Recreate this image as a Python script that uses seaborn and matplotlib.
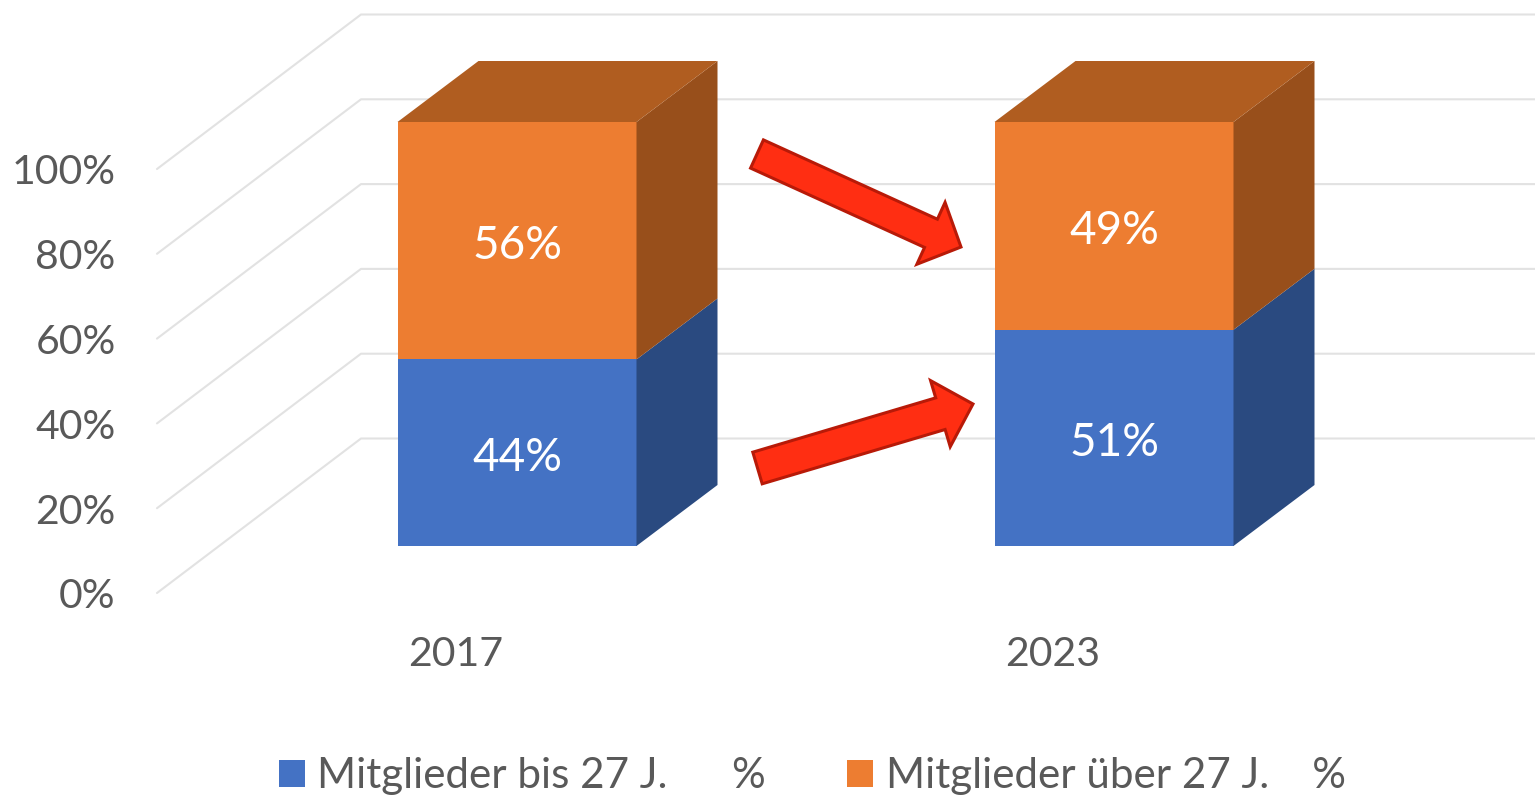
"""
Stacked member share per year, drawn with a fake 3D look like the office chart.
"""
import matplotlib.pyplot as plt
import pandas as pd
import seaborn as sns
from matplotlib.patches import FancyArrow
from matplotlib.transforms import IdentityTransform

years = ["2017", "2023"]
young_pct = [44, 51]
old_pct = [56, 49]
young_label = "Mitglieder bis 27 J.      %"
old_label = "Mitglieder über 27 J.    %"
axis_ticks = [0, 20, 40, 60, 80, 100]

BLUE, BLUE_SIDE = "#4472C4", "#2A4A80"
ORANGE, ORANGE_SIDE, ORANGE_TOP = "#ED7D31", "#984F1B", "#B05D20"
GREY = "#595959"
GRID = "#E2E2E2"
W, H = 1535, 795

# pixel layout of the picture
X_PER_CAT = 597.0
Y_PER_PCT = 4.24
X0_PX, Y0_PX = 517.0, 546.0
BAR_W = 239 / X_PER_CAT
DX, DY = 81 / X_PER_CAT, 61 / Y_PER_PCT

sns.set_theme(style="white")
plt.rcParams["font.family"] = ["Lato", "DejaVu Sans"]


def px_x(x):
    return (x - X0_PX) / X_PER_CAT


def px_y(y):
    return (Y0_PX - y) / Y_PER_PCT


def red_arrow(ax, x0, y0, x1, y1, shaft, head_w, head_l):
    ax.add_patch(FancyArrow(x0, H - y0, x1 - x0, y0 - y1, width=shaft, head_width=head_w,
                            head_length=head_l, length_includes_head=True,
                            facecolor="#FF2E12", edgecolor="#B81A08", linewidth=2.2,
                            transform=IdentityTransform(), zorder=6))


fig = plt.figure(figsize=(W / 100, H / 100), dpi=100)
ax = fig.add_axes([0, 0, 1, 1])

df = pd.DataFrame({"year": years, "young": young_pct, "old": old_pct})

sns.barplot(data=df, x="year", y="young", color=BLUE, saturation=1, width=BAR_W, ax=ax,
            label=young_label, zorder=3, linewidth=0)
sns.barplot(data=df, x="year", y="old", bottom=df["young"], color=ORANGE, saturation=1,
            width=BAR_W, ax=ax, label=old_label, zorder=3, linewidth=0)

ax.set_xlim(px_x(0), px_x(W))
ax.set_ylim(px_y(H), px_y(0))

# back wall grid
wall_x0, wall_x1 = px_x(157), px_x(361)
wall_lift = px_y(593)
wall_top = px_y(438.5)
for t in axis_ticks:
    ax.plot([wall_x0, wall_x1, px_x(W)], [wall_lift + t, wall_top + t, wall_top + t],
            color=GRID, lw=1.5, zorder=0)
    ax.text(px_x(115.5), wall_lift + t - 0.9, f"{t}%", ha="right", va="center", fontsize=29.5, color=GREY)

# side and top faces of the boxes, labels on the front
for i, year in enumerate(years):
    right = i + BAR_W / 2
    left = i - BAR_W / 2
    a, b = young_pct[i], old_pct[i]
    ax.fill([right, right + DX, right + DX, right], [0, DY, a + DY, a], color=BLUE_SIDE, lw=0, zorder=3)
    ax.fill([right, right + DX, right + DX, right], [a, a + DY, a + b + DY, a + b], color=ORANGE_SIDE, lw=0, zorder=3)
    ax.fill([left, right, right + DX, left + DX], [a + b, a + b, a + b + DY, a + b + DY],
            color=ORANGE_TOP, lw=0, zorder=3)
    ax.text(i, a / 2 - 1.2, f"{a}%", ha="center", va="center", fontsize=33, color="white", zorder=5)
    ax.text(i, a + b / 2 - 1.3, f"{b}%", ha="center", va="center", fontsize=33, color="white", zorder=5)
    ax.text(i + px_x(456), px_y(654), year, ha="center", va="center", fontsize=29.5, color=GREY)

red_arrow(ax, 757, 154, 961, 247, 31, 68, 33)
red_arrow(ax, 757.5, 468, 973, 404, 33, 69, 34)

ax.legend(loc="lower center", bbox_to_anchor=(0.529, -0.027), ncol=2, frameon=False, fontsize=30.3,
          labelcolor=GREY, handlelength=0.62, handleheight=0.62, handletextpad=0.29,
          columnspacing=1.94, borderpad=0)

ax.axis("off")
fig.savefig("out.png", dpi=100)
